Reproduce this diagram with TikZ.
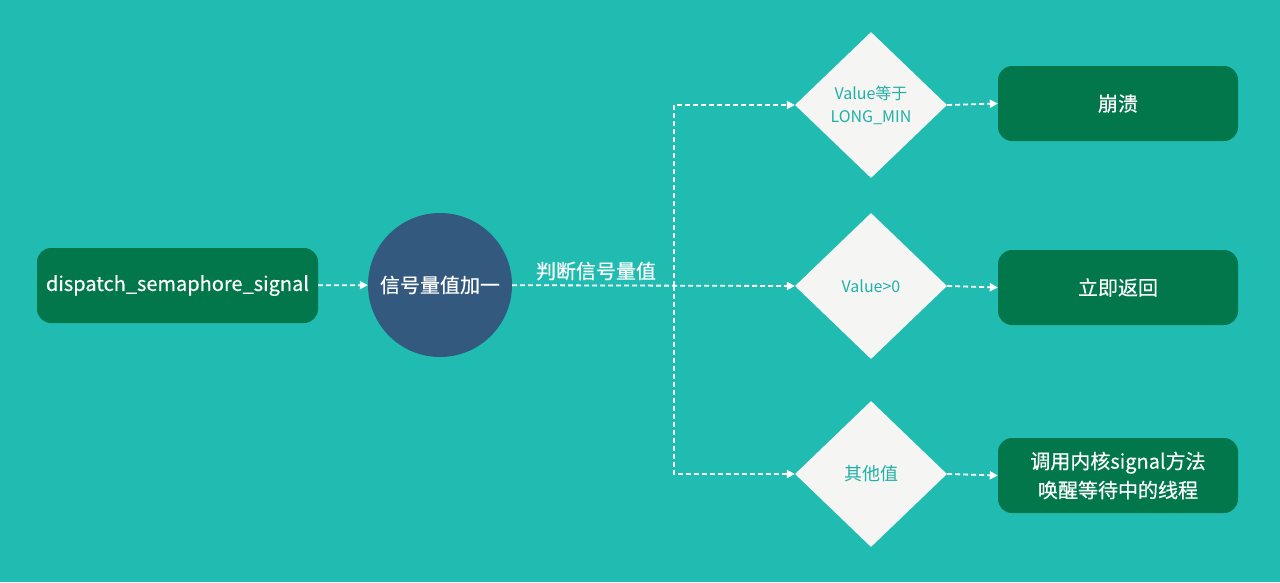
\documentclass[tikz,border=0pt]{standalone}
\usepackage{fontspec}
\setmainfont{Noto Sans CJK SC}
\newfontfamily\medfont{Noto Sans CJK SC}[FakeBold=0.4]
\usetikzlibrary{arrows.meta,shapes.geometric}
\definecolor{bgteal}{HTML}{21BCB1}
\definecolor{boxgreen}{HTML}{01774B}
\definecolor{circblue}{HTML}{335A7E}
\definecolor{diafill}{HTML}{F5F5F3}
\definecolor{diatext}{HTML}{21B0A6}
\tikzset{
  greenbox/.style={draw=none,fill=boxgreen,rounded corners=14pt,text=white,font=\medfont\fontsize{20}{29}\selectfont,align=center,inner sep=0pt},
  decision/.style={diamond,fill=diafill,draw=none,minimum width=152pt,minimum height=146pt,inner sep=0pt,text=diatext,font=\fontsize{16}{23}\selectfont,align=center},
  flow/.style={draw=white,line width=1.8pt,dash pattern=on 5pt off 3pt,-{Triangle[width=8pt,length=8pt]}},
}
\begin{document}
\begin{tikzpicture}[x=1pt,y=-1pt]
\fill[bgteal] (0,0) rectangle (1280,582);
\useasboundingbox (0,0) rectangle (1280,582);
\node[greenbox,minimum width=281pt,minimum height=75pt] (start) at (177.5,285.5) {dispatch\_semaphore\_signal};
\node[circle,fill=circblue,minimum size=144pt,inner sep=0pt,text=white,font=\medfont\fontsize{20}{24}\selectfont] (inc) at (440,285) {信号量值加一};
\node[decision] (d1) at (871,105) {Value等于\\LONG\_MIN};
\node[decision] (d2) at (871,286) {Value>0};
\node[decision,font=\fontsize{18}{23}\selectfont] (d3) at (871,474) {其他值};
\node[greenbox,minimum width=240pt,minimum height=75pt] (b1) at (1118,103.5) {崩溃};
\node[greenbox,minimum width=240pt,minimum height=75pt] (b2) at (1118,287.5) {立即返回};
\node[greenbox,minimum width=240pt,minimum height=75pt] (b3) at (1118,475.5) {调用内核signal方法\\唤醒等待中的线程};
\coordinate (split) at (674,286);
\draw[flow] (start) -- (inc);
\draw[flow] (inc) -- (d2.west);
\node[text=white,font=\medfont\fontsize{20}{24}\selectfont] (lbl) at (596,271) {判断信号量值};
\draw[flow] (split) |- (d1.west);
\draw[flow] (split) |- (d3.west);
\draw[flow] (d1.east) -- (b1.west);
\draw[flow] (d2.east) -- (b2.west);
\draw[flow] (d3.east) -- (b3.west);
\end{tikzpicture}
\end{document}
